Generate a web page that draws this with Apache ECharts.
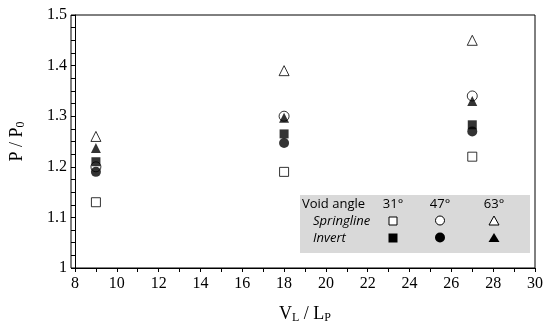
<!DOCTYPE html>
<html>
<head>
<meta charset="utf-8">
<script src="https://cdn.jsdelivr.net/npm/echarts@6/dist/echarts.min.js"></script>
<style>
  html, body { margin: 0; padding: 0; background: #fff; }
  #main { width: 547px; height: 329px; }
</style>
</head>
<body>
<div id="main"></div>
<script>
// 数据：横坐标 VL/LP，纵坐标 P/P0
const xValues = [9, 18, 27];
const spring31 = [1.13, 1.19, 1.22];
const spring47 = [1.20, 1.30, 1.34];
const spring63 = [1.26, 1.39, 1.45];
const invert31 = [1.21, 1.265, 1.283];
const invert47 = [1.19, 1.247, 1.27];
const invert63 = [1.237, 1.297, 1.33];
const xTicks = [8, 10, 12, 14, 16, 18, 20, 22, 24, 26, 28, 30];
const yTicks = [1, 1.1, 1.2, 1.3, 1.4, 1.5];

function pts(vals) {
  return xValues.map((x, i) => [x, vals[i]]);
}

const openStyle = { color: '#fff', borderColor: '#000', borderWidth: 1 };
const fillStyle = { color: '#000' };

function mk(name, vals, symbol, size, style, z) {
  return {
    name: name,
    type: 'scatter',
    data: pts(vals),
    symbol: symbol,
    symbolSize: size,
    itemStyle: style,
    z: z
  };
}

// 图例是手画的灰色框（不用 font 简写，直接给 fontSize/fontFamily）
const colX = [393, 440, 494];
const legendItems = [];
function txt(x, y, text, italic, align) {
  return {
    type: 'text', x: x, y: y,
    style: {
      text: text, fontSize: 13, fontFamily: 'Open Sans', fontStyle: italic ? 'italic' : 'normal',
      fill: '#000', align: align || 'left', verticalAlign: 'middle'
    }
  };
}
legendItems.push({ type: 'rect', shape: { x: 300, y: 195, width: 230, height: 58 }, style: { fill: '#d9d9d9' } });
legendItems.push(txt(302, 204, 'Void angle'));
['31°', '47°', '63°'].forEach((t, i) => legendItems.push(txt(colX[i], 204, t, false, 'center')));
legendItems.push(txt(313, 221, 'Springline', true));
legendItems.push(txt(313, 238, 'Invert', true));
// 空心
legendItems.push({ type: 'rect', shape: { x: colX[0] - 4, y: 217, width: 8, height: 8 }, style: { fill: '#fff', stroke: '#000', lineWidth: 1 } });
legendItems.push({ type: 'circle', shape: { cx: colX[1], cy: 220.5, r: 4.5 }, style: { fill: '#fff', stroke: '#000', lineWidth: 1 } });
legendItems.push({ type: 'polygon', shape: { points: [[colX[2], 216], [colX[2] + 5, 225], [colX[2] - 5, 225]] }, style: { fill: '#fff', stroke: '#000', lineWidth: 1 } });
// 实心
legendItems.push({ type: 'rect', shape: { x: colX[0] - 4.5, y: 233.5, width: 9, height: 9 }, style: { fill: '#000' } });
legendItems.push({ type: 'circle', shape: { cx: colX[1], cy: 237.5, r: 5 }, style: { fill: '#000' } });
legendItems.push({ type: 'polygon', shape: { points: [[colX[2], 233], [colX[2] + 5.5, 242], [colX[2] - 5.5, 242]] }, style: { fill: '#000' } });

const serif = 'Liberation Serif';

const option = {
  animation: false,
  backgroundColor: '#fff',
  grid: { left: 71, right: 12, top: 15, bottom: 61 },
  xAxis: {
    type: 'value',
    min: 8, max: 30, interval: 1,
    name: '{a|V}{s|L}{a| / L}{s|P}',
    nameLocation: 'middle',
    nameGap: 36,
    nameTextStyle: {
      rich: {
        a: { fontFamily: serif, fontSize: 18, color: '#000' },
        s: { fontFamily: serif, fontSize: 12, color: '#000', padding: [8, 0, 0, 0] }
      }
    },
    axisLine: { lineStyle: { color: '#000', width: 1 } },
    axisTick: { show: true, length: 4, lineStyle: { color: '#000' } },
    splitLine: { show: false },
    axisLabel: {
      color: '#000', fontSize: 16, fontFamily: serif, margin: 8,
      formatter: v => (xTicks.indexOf(Math.round(v)) >= 0 && Math.abs(v - Math.round(v)) < 1e-6 ? String(Math.round(v)) : '')
    }
  },
  yAxis: {
    type: 'value',
    min: 1, max: 1.5, interval: 0.025,
    name: '{a|P / P}{s|0}',
    nameLocation: 'middle',
    nameGap: 48,
    nameRotate: 90,
    nameTextStyle: {
      rich: {
        a: { fontFamily: serif, fontSize: 18, color: '#000' },
        s: { fontFamily: serif, fontSize: 12, color: '#000', padding: [8, 0, 0, 0] }
      }
    },
    axisLine: { show: true, lineStyle: { color: '#000', width: 1 } },
    axisTick: { show: true, length: 4, lineStyle: { color: '#000' } },
    splitLine: { show: false },
    axisLabel: {
      color: '#000', fontSize: 16, fontFamily: serif, margin: 8,
      formatter: v => {
        const r = Math.round(v * 10) / 10;
        if (Math.abs(v - r) > 1e-6 || yTicks.indexOf(r) < 0) return '';
        return r === 1 ? '1' : r.toFixed(1);
      }
    }
  },
  series: [
    mk('Springline 31°', spring31, 'rect', 9, openStyle, 2),
    mk('Springline 47°', spring47, 'circle', 10, openStyle, 2),
    mk('Springline 63°', spring63, 'triangle', 10, openStyle, 2),
    mk('Invert 31°', invert31, 'rect', 9, fillStyle, 3),
    mk('Invert 47°', invert47, 'circle', 10, fillStyle, 3),
    mk('Invert 63°', invert63, 'triangle', 10, fillStyle, 3)
  ],
  graphic: [
    // 上、右边框
    { type: 'rect', shape: { x: 71, y: 15, width: 464, height: 253 }, style: { fill: 'none', stroke: '#000', lineWidth: 1 }, silent: true, z: 1 },
    { type: 'group', children: legendItems, z: 5 }
  ]
};

const myChart = echarts.init(document.getElementById('main'));
myChart.setOption(option);
</script>
</body>
</html>
